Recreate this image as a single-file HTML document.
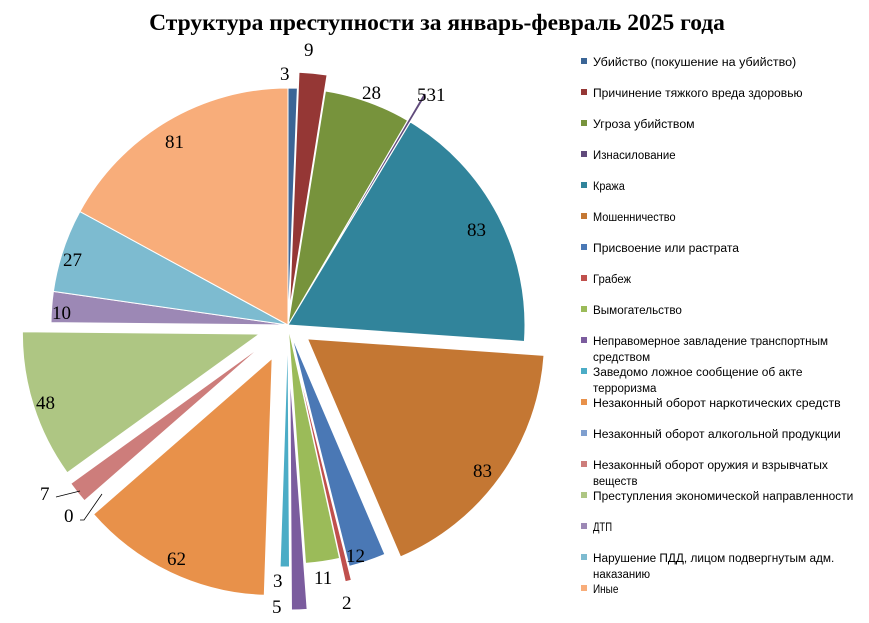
<!DOCTYPE html>
<html><head><meta charset="utf-8"><style>
body{margin:0;background:#fff;width:869px;height:618px;overflow:hidden;font-family:"Liberation Serif",serif}
</style></head><body>
<svg id="s" width="869" height="618" xmlns="http://www.w3.org/2000/svg">
<text x="437" y="30" text-anchor="middle" font-family="Liberation Serif" font-weight="bold" font-size="23.5">Структура преступности за январь-февраль 2025 года</text>
<g id="pie"></g>
<g font-family="Liberation Serif" font-size="19" fill="#000">
<text x="280" y="80">3</text><text x="304" y="56">9</text><text x="362" y="99">28</text><text x="417" y="101">531</text>
<text x="467" y="236">83</text><text x="473" y="477">83</text><text x="346" y="562">12</text><text x="342" y="609">2</text>
<text x="314" y="584">11</text><text x="272" y="613">5</text><text x="273" y="587">3</text><text x="167" y="565">62</text>
<text x="64" y="522">0</text><text x="40" y="500">7</text><text x="36" y="409">48</text><text x="52" y="319">10</text>
<text x="63" y="266">27</text><text x="165" y="148">81</text>
</g>
<path d="M56,497 L80,491 M80,520 L84,520 L102,494" stroke="#000" fill="none" stroke-width="0.8"/>
<g id="leg" font-family="Liberation Sans" font-size="11.5" fill="#000"></g>
</svg>
<script>
var d=[[3,"#3b6596",0],[9,"#953735",16],[28,"#77933c",0],[1,"#604a7b",32],[83,"#31849b",0],[83,"#c47733",24],[12,"#4a78b5",12],[2,"#c0504d",26],[11,"#9bbb59",2],[5,"#7b5c9e",48],[3,"#4bacc6",5],[62,"#e8914a",37],[0,"#7f9fcf",0],[7,"#cd7d7b",32],[48,"#aec683",30],[10,"#9c88b5",0],[27,"#7dbbd0",0],[81,"#f8ad7a",0]];
var cx=288,cy=325,R=237,tot=475,a=0,g=document.getElementById('pie'),h='';
function P(r,t){return [cx+r*Math.sin(t*Math.PI/180),cy-r*Math.cos(t*Math.PI/180)];}
d.forEach(function(s){var a1=a+s[0]*360/tot;if(s[0]>0){var m=(a+a1)/2,ox=s[2]*Math.sin(m*Math.PI/180),oy=-s[2]*Math.cos(m*Math.PI/180);
var p0=P(R,a),p1=P(R,a1);h+='<path d="M'+(cx+ox)+','+(cy+oy)+' L'+(p0[0]+ox)+','+(p0[1]+oy)+' A'+R+','+R+' 0 0 1 '+(p1[0]+ox)+','+(p1[1]+oy)+' Z" fill="'+s[1]+'" stroke="#fff" stroke-width="1"/>';}a=a1;});
g.innerHTML=h;
var L=[["Убийство (покушение на убийство)"],["Причинение тяжкого вреда здоровью"],["Угроза убийством"],["Изнасилование"],["Кража"],["Мошенничество"],["Присвоение или растрата"],["Грабеж"],["Вымогательство"],["Неправомерное завладение транспортным","средством"],["Заведомо ложное сообщение об акте","терроризма"],["Незаконный оборот наркотических средств"],["Незаконный оборот алкогольной продукции"],["Незаконный оборот оружия и взрывчатых","веществ"],["Преступления экономической направленности"],["ДТП"],["Нарушение ПДД, лицом подвергнутым адм.","наказанию"],["Иные"]];
var lh='';L.forEach(function(l,i){var y=66+i*31;lh+='<rect x="581" y="'+(y-8)+'" width="6" height="6" fill="'+d[i][1]+'"/>';l.forEach(function(t,j){lh+='<text x="593" y="'+(y+j*16)+'" textLength="'+(t.length*6.35)+'" lengthAdjust="spacingAndGlyphs">'+t+'</text>';});});
document.getElementById('leg').innerHTML=lh;
</script>
</body></html>
